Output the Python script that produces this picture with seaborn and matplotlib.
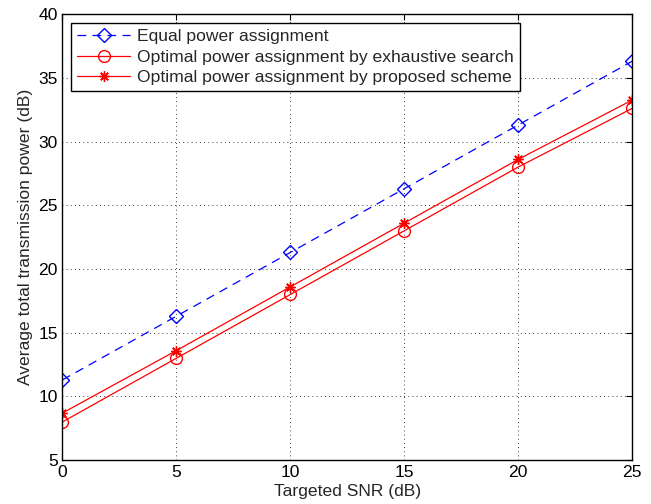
import matplotlib
matplotlib.use('Agg')
import matplotlib.pyplot as plt
import seaborn as sns

# 資料
snr = [0, 5, 10, 15, 20, 25]
equal_power = [11.3, 16.3, 21.3, 26.3, 31.3, 36.3]
exhaustive = [8.0, 13.0, 18.0, 23.0, 28.0, 32.6]
proposed = [8.7, 13.6, 18.6, 23.6, 28.6, 33.25]

labels = ['Equal power assignment',
          'Optimal power assignment by exhaustive search',
          'Optimal power assignment by proposed scheme']

sns.set_style('white')
plt.rcParams['font.family'] = ['Liberation Sans', 'DejaVu Sans']
fs = 12.6

fig = plt.figure(figsize=(6.51, 5.04), dpi=100)
ax = fig.add_axes([0.096, 0.087, 0.875, 0.885])

sns.lineplot(x=snr, y=equal_power, ax=ax, color='blue', linestyle=(0, (7, 5)),
             marker='D', markersize=7.5, markerfacecolor='none', markeredgecolor='blue',
             markeredgewidth=1, linewidth=0.9, label=labels[0])
sns.lineplot(x=snr, y=exhaustive, ax=ax, color='red', linestyle='-',
             marker='o', markersize=8.5, markerfacecolor='none', markeredgecolor='red',
             markeredgewidth=1, linewidth=0.9, label=labels[1])
sns.lineplot(x=snr, y=proposed, ax=ax, color='red', linestyle='-',
             marker=(8, 2, 0), markersize=7.5, markerfacecolor='red', markeredgecolor='red',
             markeredgewidth=1, linewidth=0.9, label=labels[2])

ax.set_xlim(0, 25)
ax.set_ylim(5, 40)
ax.set_xticks(range(0, 26, 5))
ax.set_yticks(range(5, 41, 5))
ax.grid(True, linestyle=(0, (1, 4)), color='black', linewidth=0.6)
ax.tick_params(direction='in', top=True, right=True, length=4, labelsize=fs, colors='black')
for s in ax.spines.values():
    s.set_visible(True)
    s.set_color('black')
    s.set_linewidth(1.0)

ax.set_xlabel('Targeted SNR (dB)', fontsize=fs, labelpad=3)
ax.set_ylabel('Average total transmission power (dB)', fontsize=fs, labelpad=4)

leg = ax.legend(loc='upper left', fontsize=fs, frameon=True, fancybox=False,
                edgecolor='black', framealpha=1, borderpad=0.35, labelspacing=0.3,
                handlelength=3.0, handletextpad=0.4, borderaxespad=0.5)
leg.get_frame().set_linewidth(1.0)

plt.savefig('out.png', dpi=100)
